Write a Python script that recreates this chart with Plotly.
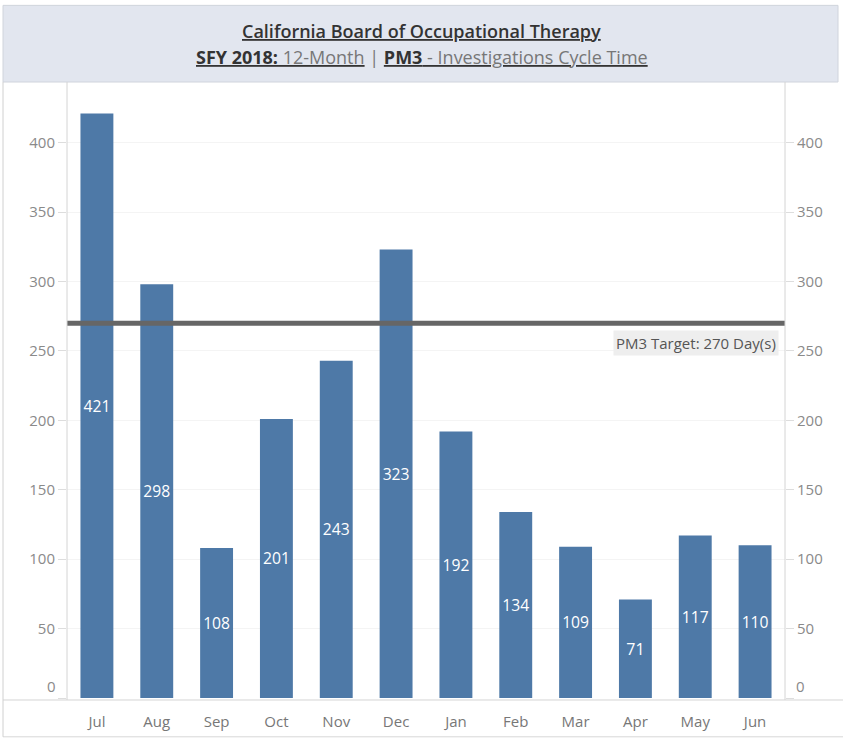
import plotly.graph_objects as go

months = ["Jul", "Aug", "Sep", "Oct", "Nov", "Dec", "Jan", "Feb", "Mar", "Apr", "May", "Jun"]
days = [421, 298, 108, 201, 243, 323, 192, 134, 109, 71, 117, 110]
target = 270
yticks = [0, 50, 100, 150, 200, 250, 300, 350, 400]
yticktext = ["", "50", "100", "150", "200", "250", "300", "350", "400"]

FONT = "Open Sans"
fig = go.Figure()
fig.add_trace(go.Bar(
    x=months, y=days, marker_color="#4e79a7", marker_line_width=0,
    width=0.55, text=[str(v) for v in days], textposition="inside",
    insidetextanchor="middle", textangle=0,
    textfont=dict(color="white", size=16, family=FONT),
    hoverinfo="x+y", showlegend=False,
))
fig.add_trace(go.Scatter(x=months, y=days, yaxis="y2", mode="markers",
                         marker=dict(opacity=0), showlegend=False, hoverinfo="skip"))

T = 82; B = 42; H = 743
ph = H - T - B
def py(p):
    return (H - B - p) / ph

shapes = [
    dict(type="rect", xref="paper", yref="paper", x0=-64/718, x1=(838-67)/718,
         y0=py(82), y1=py(5), fillcolor="#e2e6ef", line=dict(color="#d0d4dc", width=1), layer="below"),
    dict(type="line", xref="paper", yref="y", x0=0, x1=1, y0=target, y1=target,
         line=dict(color="#666666", width=5)),
    dict(type="line", xref="paper", yref="paper", x0=0, x1=0, y0=py(703), y1=1,
         line=dict(color="#d4d4d4", width=1)),
    dict(type="line", xref="paper", yref="paper", x0=1, x1=1, y0=py(703), y1=1,
         line=dict(color="#d4d4d4", width=1)),
    dict(type="line", xref="paper", yref="paper", x0=-64/718, x1=(843-67)/718, y0=py(703), y1=py(703),
         line=dict(color="#d4d4d4", width=1)),
    dict(type="line", xref="paper", yref="paper", x0=-64/718, x1=(843-67)/718, y0=py(740), y1=py(740),
         line=dict(color="#d8d8d8", width=1)),
    dict(type="line", xref="paper", yref="paper", x0=-64/718, x1=-64/718, y0=py(740), y1=py(82),
         line=dict(color="#d0d0d0", width=1)),
]

yr = [0, ph / 1.395]
axis_common = dict(range=yr, tickvals=yticks, ticktext=yticktext, ticks="outside", ticklen=8,
                   tickcolor="#dddddd", tickfont=dict(color="#8a8a8a", size=15, family=FONT),
                   showline=False, zeroline=False, fixedrange=True)

GRAY = "#777777"
title1 = "<u>California Board of Occupational Therapy</u>"
title2 = (
    "<u><b>SFY 2018:</b>"
    f"<span style='color:{GRAY}'> 12-Month</span></u>"
    f"<span style='color:{GRAY}'> | </span>"
    f"<u><b>PM3</b><span style='color:{GRAY}'> - Investigations Cycle Time</span></u>"
)
cx = (421.5 - 67) / 718

fig.update_layout(
    width=843, height=743,
    margin=dict(l=67, r=58, t=T, b=B),
    paper_bgcolor="white", plot_bgcolor="white",
    shapes=shapes,
    xaxis=dict(showgrid=False, tickfont=dict(color="#777777", size=15, family=FONT),
               range=[-0.5, len(months) - 0.5],
               ticks="outside", ticklen=10, tickcolor="rgba(0,0,0,0)", showline=False, fixedrange=True),
    yaxis=dict(showgrid=True, gridcolor="#f4f4f4", **axis_common),
    yaxis2=dict(overlaying="y", side="right", showgrid=False, **axis_common),
    annotations=[
        dict(xref="paper", yref="paper", x=cx, y=py(31), xanchor="center", yanchor="middle",
             text=title1, showarrow=False,
             font=dict(family=FONT, size=18, color="#333333", weight=600)),
        dict(xref="paper", yref="paper", x=cx, y=py(57), xanchor="center", yanchor="middle",
             text=title2, showarrow=False,
             font=dict(family=FONT, size=18, color="#333333")),
        dict(xref="paper", yref="y", x=1, y=target, xanchor="right", yanchor="top",
             xshift=-6, yshift=-7, text="PM3 Target: 270 Day(s)", showarrow=False,
             font=dict(family=FONT, size=15, color="#555555"), bgcolor="#eeeeee", borderpad=2),
        dict(xref="paper", yref="y", x=0, y=0, xanchor="right", yanchor="bottom",
             xshift=-9, yshift=0, text="0", showarrow=False,
             font=dict(family=FONT, size=15, color="#8a8a8a")),
        dict(xref="paper", yref="y", x=1, y=0, xanchor="left", yanchor="bottom",
             xshift=9, yshift=0, text="0", showarrow=False,
             font=dict(family=FONT, size=15, color="#8a8a8a")),
    ],
)
fig.write_html("out.html", config={"displayModeBar": False},
               post_script="document.body.style.margin='0';document.body.style.overflow='hidden';")
